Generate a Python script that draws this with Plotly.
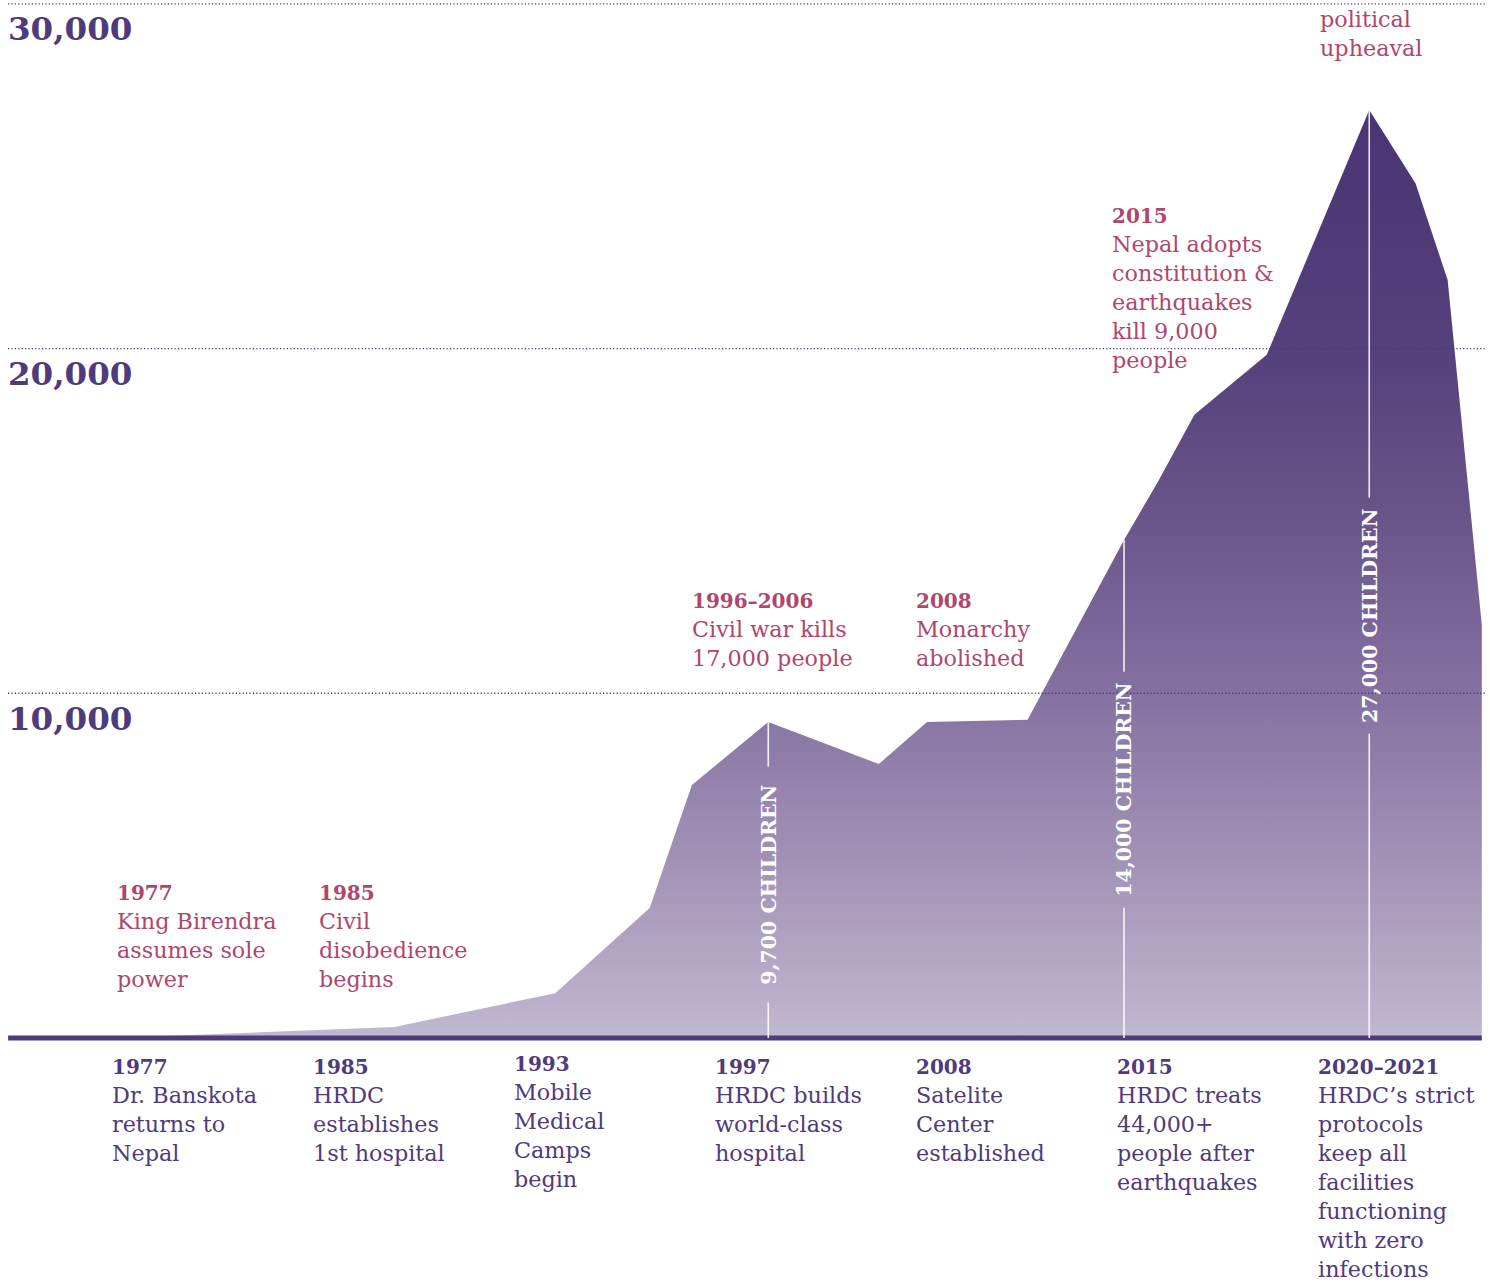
import plotly.graph_objects as go

# ---------------- data ----------------
# timeline position of each vertex (label-slot units: 0 = 1977 slot, 6 = 2020-2021 slot)
pos = [0.00, 1.40, 2.20, 2.67, 2.88, 3.26, 3.81, 4.05, 4.55, 5.03, 5.20, 5.38, 5.74, 6.25, 6.48, 6.64, 6.81]
children = [0, 320, 1300, 3770, 7340, 9170, 7950, 9170, 9230, 14450, 16150, 18080, 19820, 26920, 24800, 21990, 11980]

grid_values = [10000, 20000, 30000]

callout_idx = [5, 9, 13]
callout_text = ["9,700 CHILDREN", "14,000 CHILDREN", "27,000 CHILDREN"]
callout_mid = [4450, 7200, 12250]

bottom_years = ["1977", "1985", "1993", "1997", "2008", "2015", "2020–2021"]
bottom_texts = [
    "Dr. Banskota<br>returns to<br>Nepal",
    "HRDC<br>establishes<br>1st hospital",
    "Mobile<br>Medical<br>Camps<br>begin",
    "HRDC builds<br>world-class<br>hospital",
    "Satelite<br>Center<br>established",
    "HRDC treats<br>44,000+<br>people after<br>earthquakes",
    "HRDC’s strict<br>protocols<br>keep all<br>facilities<br>functioning<br>with zero<br>infections",
]

top_years = ["1977", "1985", "1996–2006", "2008", "2015", ""]
top_texts = [
    "King Birendra<br>assumes sole<br>power",
    "Civil<br>disobedience<br>begins",
    "Civil war kills<br>17,000 people",
    "Monarchy<br>abolished",
    "Nepal adopts<br>constitution &<br>earthquakes<br>kill 9,000<br>people",
    "political<br>upheaval",
]

# ---------------- layout constants ----------------
W, H = 1490, 1283
X0_PX, SLOT_PX = 113, 201
Y0_PX, PX_PER_UNIT = 1038, 0.03447
xr = [-X0_PX / SLOT_PX, (W - X0_PX) / SLOT_PX]
yr = [(Y0_PX - H) / PX_PER_UNIT, Y0_PX / PX_PER_UNIT]

PURPLE = "#4f3b7c"
PINK = "#b0466c"
FONT = "DejaVu Serif"

def xpx(px):
    return px / W

def ypx(px):
    return 1 - px / H

fig = go.Figure()
fig.add_trace(go.Scatter(
    x=pos, y=children, mode="lines", fill="tozeroy",
    line=dict(width=0, color="#4a3474"),
    fillgradient=dict(
        type="vertical", start=0, stop=27000,
        colorscale=[[0.0, "#c1b8d1"], [0.15, "#a999bb"], [0.37, "#8471a1"],
                    [0.55, "#6b568b"], [0.73, "#55417c"], [1.0, "#4a3474"]],
    ),
    hoverinfo="skip", showlegend=False,
))

shapes = []
# dotted grid lines above the area
for v in grid_values:
    shapes.append(dict(type="line", xref="paper", yref="y", x0=xpx(8), x1=xpx(1486), y0=v, y1=v,
                       line=dict(color="rgba(72,56,132,1)", width=1.4, dash="1.2px,2.2px"), layer="above"))
# thick baseline
shapes.append(dict(type="line", xref="x", yref="y", x0=-0.522, x1=pos[-1], y0=0, y1=0,
                   line=dict(color=PURPLE, width=5), layer="above"))

annotations = []
# y labels
for v in grid_values:
    annotations.append(dict(xref="paper", yref="y", x=xpx(6), y=v, xanchor="left", yanchor="middle",
                            yshift=-25, text=f"<b>{v:,}</b>", showarrow=False,
                            font=dict(family=FONT, size=32.5, color=PURPLE)))

# callout lines + vertical labels
half_gap = 118 / PX_PER_UNIT
for i, t, m in zip(callout_idx, callout_text, callout_mid):
    xv, yv = pos[i], children[i]
    shapes.append(dict(type="line", xref="x", yref="y", x0=xv, x1=xv, y0=0, y1=m - half_gap,
                       line=dict(color="rgba(255,255,255,0.9)", width=1.6), layer="above"))
    shapes.append(dict(type="line", xref="x", yref="y", x0=xv, x1=xv, y0=m + half_gap, y1=yv,
                       line=dict(color="rgba(255,255,255,0.9)", width=1.6), layer="above"))
    annotations.append(dict(xref="x", yref="y", x=xv, y=m, text=f"<b>{t}</b>", textangle=-90,
                            showarrow=False, xanchor="center", yanchor="middle",
                            font=dict(family=FONT, size=20.5, color="white")))

# bottom milestones
for k, (yr_txt, body) in enumerate(zip(bottom_years, bottom_texts)):
    top = 1050 if yr_txt == "1993" else 1053
    annotations.append(dict(xref="x", yref="paper", x=k, y=ypx(top), xanchor="left", yanchor="top",
                            xshift=-3, align="left", showarrow=False,
                            text=f"<span style='font-size:20px'><b>{yr_txt}</b></span><br>{body}",
                            font=dict(family=FONT, size=22.3, color=PURPLE)))

# top (political) events
top_x_px = [117, 319, 692, 916, 1112, 1320]
top_y_px = [879, 879, 587, 587, 202, 4]
for yr_txt, body, xp, ypp in zip(top_years, top_texts, top_x_px, top_y_px):
    txt = (f"<span style='font-size:20px'><b>{yr_txt}</b></span><br>{body}" if yr_txt else body)
    annotations.append(dict(xref="paper", yref="paper", x=xpx(xp - 2), y=ypx(ypp), xanchor="left",
                            yanchor="top", align="left", showarrow=False, text=txt,
                            font=dict(family=FONT, size=22.3, color=PINK)))

fig.update_layout(
    width=W, height=H, margin=dict(l=0, r=0, t=0, b=0),
    paper_bgcolor="white", plot_bgcolor="white",
    xaxis=dict(range=xr, visible=False, fixedrange=True),
    yaxis=dict(range=yr, visible=False, fixedrange=True),
    shapes=shapes, annotations=annotations, showlegend=False,
)

fig.write_html("out.html", config={"displayModeBar": False},
               post_script="document.body.style.margin='0';document.body.style.overflow='hidden';")
